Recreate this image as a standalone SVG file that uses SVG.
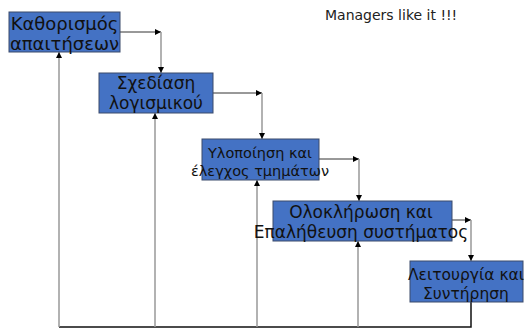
<svg xmlns="http://www.w3.org/2000/svg" width="525" height="329" viewBox="0 0 525 329">
<style>
.box{fill:#4472C4;stroke:#3b4a6b;stroke-width:1}
.t{font-family:"DejaVu Sans",sans-serif;fill:#111;text-anchor:middle}
.h{stroke:#333;stroke-width:1;fill:none}
.v{stroke:#999;stroke-width:1.5;fill:none}
.b{stroke:#111;stroke-width:1.5;fill:none}
</style>
<defs>
<marker id="ar" viewBox="0 0 10 10" refX="10" refY="5" markerWidth="6" markerHeight="6" markerUnits="userSpaceOnUse" orient="auto">
<path d="M0,0 L10,5 L0,10 z" fill="#000"/>
</marker>
</defs>
<rect width="525" height="329" fill="#fff"/>
<g id="connectors">
<path class="h" d="M120,32 H161" marker-end="url(#ar)"/>
<path class="v" d="M161,32 V73" marker-end="url(#ar)"/>
<path class="h" d="M213,93 H262" marker-end="url(#ar)"/>
<path class="v" d="M262,93 V139" marker-end="url(#ar)"/>
<path class="h" d="M319,159 H359" marker-end="url(#ar)"/>
<path class="v" d="M359,159 V201" marker-end="url(#ar)"/>
<path class="h" d="M452,220 H471" marker-end="url(#ar)"/>
<path class="v" d="M471,220 V261" marker-end="url(#ar)"/>
<path class="b" d="M471,302 V327 H59"/>
<path class="v" d="M59,327 V52" marker-end="url(#ar)"/>
<path class="v" d="M155,327 V113" marker-end="url(#ar)"/>
<path class="v" d="M257,327 V180" marker-end="url(#ar)"/>
<path class="v" d="M358,327 V241" marker-end="url(#ar)"/>
</g>
<g id="n1">
<rect class="box" x="9" y="12" width="111" height="40"/>
<text class="t" x="64.5" y="30" font-size="18">Καθορισμός</text>
<text class="t" x="64.5" y="50" font-size="18">απαιτήσεων</text>
</g>
<g id="n2">
<rect class="box" x="99" y="73" width="114" height="40"/>
<text class="t" x="156" y="89" font-size="17">Σχεδίαση</text>
<text class="t" x="156" y="109" font-size="17">λογισμικού</text>
</g>
<g id="n3">
<rect class="box" x="202" y="139" width="117" height="41"/>
<text class="t" x="260" y="158" font-size="14.5">Υλοποίηση και</text>
<text class="t" x="260" y="176" font-size="14.5">έλεγχος τμημάτων</text>
</g>
<g id="n4">
<rect class="box" x="273" y="201" width="179" height="40"/>
<text class="t" x="361" y="218" font-size="17">Ολοκλήρωση και</text>
<text class="t" x="361" y="238" font-size="17">Επαλήθευση συστήματος</text>
</g>
<g id="n5">
<rect class="box" x="410" y="261" width="113" height="41"/>
<text class="t" x="466" y="280" font-size="15.5">Λειτουργία και</text>
<text class="t" x="466" y="299" font-size="15.5">Συντήρηση</text>
</g>
<g id="note">
<text x="325" y="20" font-family="DejaVu Sans,sans-serif" font-size="14" fill="#222">Managers like it !!!</text>
</g>
</svg>
